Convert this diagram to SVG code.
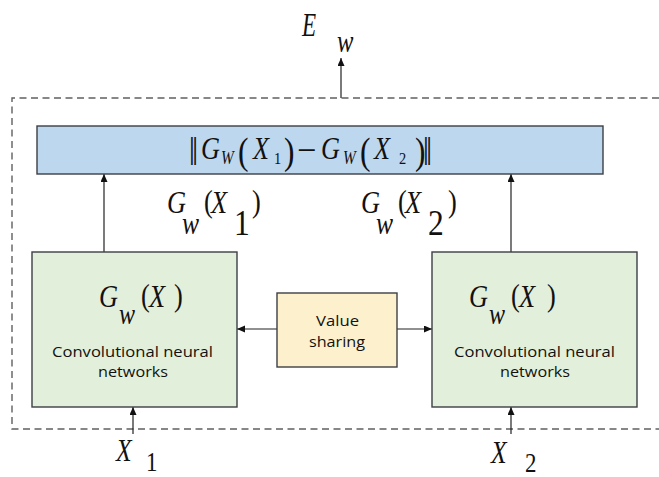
<svg xmlns="http://www.w3.org/2000/svg" width="659" height="477" viewBox="0 0 659 477">
<style>
.mi{font-family:"Liberation Serif","Times New Roman","DejaVu Serif",serif;font-style:italic;fill:#111}
.mu{font-family:"Liberation Serif","Times New Roman","DejaVu Serif",serif;fill:#111}
.sans{font-family:"Open Sans","Noto Sans","Liberation Sans",sans-serif;fill:#111;font-size:15px}
.conn{stroke:#222;stroke-width:1.2;fill:none}
.box{stroke:#3c3f44;stroke-width:1.4}
</style>
<defs>
<marker id="ah" markerUnits="userSpaceOnUse" markerWidth="8" markerHeight="8" refX="8" refY="3.5" orient="auto">
<path d="M0,0 L8,3.5 L0,7 z" fill="#111"/>
</marker>
</defs>
<rect width="659" height="477" fill="#fff"/>
<g id="boundary">
<path d="M659,98 H12 V429 H659" fill="none" stroke="#606060" stroke-width="1.4" stroke-dasharray="7 4.5"/>
</g>
<g id="connectors">
<line class="conn" x1="341" y1="98" x2="341" y2="58" marker-end="url(#ah)"/>
<line class="conn" x1="104" y1="252" x2="104" y2="174" marker-end="url(#ah)"/>
<line class="conn" x1="511" y1="252" x2="511" y2="174" marker-end="url(#ah)"/>
<line class="conn" x1="277" y1="329" x2="237" y2="329" marker-end="url(#ah)"/>
<line class="conn" x1="397" y1="329" x2="432" y2="329" marker-end="url(#ah)"/>
<line class="conn" x1="133" y1="434" x2="133" y2="407" marker-end="url(#ah)"/>
<line class="conn" x1="511" y1="434" x2="511" y2="407" marker-end="url(#ah)"/>
</g>
<g id="output-label">
<text class="mi" font-size="33" transform="matrix(.7 0 0 1 302 36)">E</text>
<text class="mi" font-size="32" transform="matrix(.77 0 0 1 337 52)">w</text>
</g>
<g id="distance">
<rect class="box" x="37" y="126" width="566" height="48" fill="#bdd7ee"/>
<text class="mu" font-size="40" transform="matrix(.8 0 0 1 189 165)">‖</text>
<text class="mi" font-size="32" transform="matrix(.82 0 0 1 201 159)">G</text>
<text class="mi" font-size="18" transform="matrix(.85 0 0 1 221 164)">W</text>
<text class="mu" font-size="37" transform="matrix(.85 0 0 1 238 164)">(</text>
<text class="mi" font-size="32" transform="matrix(.82 0 0 1 253 159)">X</text>
<text class="mu" font-size="17" transform="matrix(.85 0 0 1 274 164)">1</text>
<text class="mu" font-size="37" transform="matrix(.85 0 0 1 284 164)">)</text>
<text class="mu" font-size="36" transform="matrix(.95 0 0 1 297 162)">−</text>
<text class="mi" font-size="32" transform="matrix(.82 0 0 1 321 159)">G</text>
<text class="mi" font-size="18" transform="matrix(.85 0 0 1 343 164)">W</text>
<text class="mu" font-size="37" transform="matrix(.85 0 0 1 360 164)">(</text>
<text class="mi" font-size="32" transform="matrix(.82 0 0 1 374 159)">X</text>
<text class="mu" font-size="17" transform="matrix(.85 0 0 1 399 164)">2</text>
<text class="mu" font-size="37" transform="matrix(.85 0 0 1 415 164)">)</text>
<text class="mu" font-size="40" transform="matrix(.8 0 0 1 423 165)">‖</text>
</g>
<g id="label-g1">
<text class="mi" font-size="31" transform="matrix(.85 0 0 1 167 213)">G</text>
<text class="mi" font-size="32" transform="matrix(.8 0 0 1 182 234)">w</text>
<text class="mu" font-size="31" transform="matrix(.85 0 0 1 204 212)">(</text>
<text class="mi" font-size="31" transform="matrix(.85 0 0 1 211 213)">X</text>
<text class="mu" font-size="35" transform="matrix(.9 0 0 1 234 235)">1</text>
<text class="mu" font-size="31" transform="matrix(.85 0 0 1 252 212)">)</text>
</g>
<g id="label-g2">
<text class="mi" font-size="31" transform="matrix(.85 0 0 1 361 213)">G</text>
<text class="mi" font-size="32" transform="matrix(.8 0 0 1 376 234)">w</text>
<text class="mu" font-size="31" transform="matrix(.85 0 0 1 398 212)">(</text>
<text class="mi" font-size="31" transform="matrix(.85 0 0 1 405 213)">X</text>
<text class="mu" font-size="35" transform="matrix(.9 0 0 1 428 235)">2</text>
<text class="mu" font-size="31" transform="matrix(.85 0 0 1 448 212)">)</text>
</g>
<g id="cnn-left">
<rect class="box" x="32" y="252" width="205" height="155" fill="#e2efda"/>
<text class="mi" font-size="31" transform="matrix(.85 0 0 1 99 307)">G</text>
<text class="mi" font-size="30" transform="matrix(.8 0 0 1 119 324)">w</text>
<text class="mu" font-size="31" transform="matrix(.85 0 0 1 141 306)">(</text>
<text class="mi" font-size="31" transform="matrix(.85 0 0 1 149 307)">X</text>
<text class="mu" font-size="31" transform="matrix(.85 0 0 1 174 306)">)</text>
<text class="sans" x="52" y="357" textLength="161" lengthAdjust="spacingAndGlyphs">Convolutional neural</text>
<text class="sans" x="98" y="377" textLength="70" lengthAdjust="spacingAndGlyphs">networks</text>
</g>
<g id="value-sharing">
<rect class="box" x="277" y="293" width="120" height="74" fill="#fdf0cd"/>
<text class="sans" x="316" y="326" textLength="43" lengthAdjust="spacingAndGlyphs">Value</text>
<text class="sans" x="309" y="347" textLength="56" lengthAdjust="spacingAndGlyphs">sharing</text>
</g>
<g id="cnn-right">
<rect class="box" x="432" y="252" width="205" height="155" fill="#e2efda"/>
<text class="mi" font-size="31" transform="matrix(.85 0 0 1 469 307)">G</text>
<text class="mi" font-size="30" transform="matrix(.8 0 0 1 489 324)">w</text>
<text class="mu" font-size="31" transform="matrix(.85 0 0 1 511 306)">(</text>
<text class="mi" font-size="31" transform="matrix(.85 0 0 1 519 307)">X</text>
<text class="mu" font-size="31" transform="matrix(.85 0 0 1 547 306)">)</text>
<text class="sans" x="454" y="357" textLength="161" lengthAdjust="spacingAndGlyphs">Convolutional neural</text>
<text class="sans" x="500" y="377" textLength="70" lengthAdjust="spacingAndGlyphs">networks</text>
</g>
<g id="input-1">
<text class="mi" font-size="32" transform="matrix(.8 0 0 1 116 461)">X</text>
<text class="mu" font-size="27" transform="matrix(.85 0 0 1 146 471)">1</text>
</g>
<g id="input-2">
<text class="mi" font-size="32" transform="matrix(.8 0 0 1 491 463)">X</text>
<text class="mu" font-size="27" transform="matrix(.85 0 0 1 525 472)">2</text>
</g>
</svg>
